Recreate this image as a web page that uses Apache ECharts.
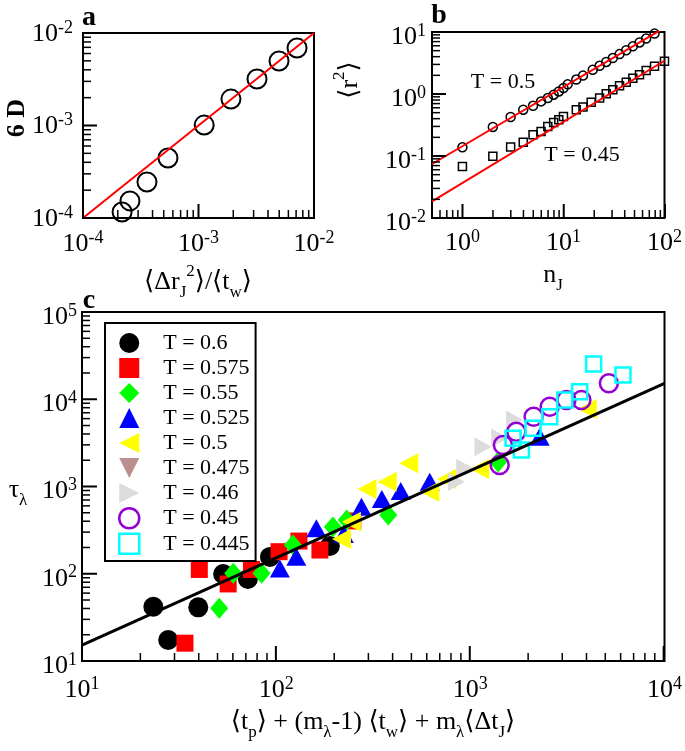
<!DOCTYPE html>
<html><head><meta charset="utf-8">
<script src="https://cdn.jsdelivr.net/npm/echarts@6/dist/echarts.min.js"></script>
<style>
html,body{margin:0;padding:0;background:#fff}
#chart,#ticks{position:absolute;left:0;top:0;width:685px;height:751px}
#ticks{pointer-events:none}
</style>
</head><body><div id="chart"></div><div id="ticks"></div>
<script>
// ---------- Panel a ----------
const aX = [2.18e-4, 2.55e-4, 3.58e-4, 5.44e-4, 1.12e-3, 1.91e-3, 3.21e-3, 4.98e-3, 7.13e-3];
const aY = [1.16e-4, 1.53e-4, 2.45e-4, 4.45e-4, 1.01e-3, 1.93e-3, 3.18e-3, 4.98e-3, 6.89e-3];
const aFitX = [1e-4, 1e-2];
const aFitY = [1e-4, 1e-2];
// ---------- Panel b ----------
const bN05 = [1, 2, 3, 4, 5, 6, 7, 8, 9, 10, 11, 13.4, 15.6, 19.5, 22.8, 26.5, 30.8, 35.9, 41.8, 48.6, 56.6, 65.8, 79.7];
const bR05 = [0.138, 0.294, 0.426, 0.558, 0.645, 0.76, 0.86, 0.975, 1.10, 1.25, 1.43, 1.71, 1.98, 2.46, 2.85, 3.29, 3.80, 4.40, 5.08, 5.87, 6.79, 7.83, 9.42];
const bN045 = [1, 2, 3, 4, 5, 6, 7, 8, 9, 10, 13.4, 15.6, 18.8, 22.8, 26.5, 30.8, 35.9, 41.8, 48.6, 56.6, 65.8, 79.7, 100];
const bR045 = [0.068, 0.099, 0.140, 0.166, 0.221, 0.249, 0.30, 0.348, 0.385, 0.435, 0.558, 0.616, 0.733, 0.861, 1.01, 1.17, 1.36, 1.54, 1.79, 2.05, 2.40, 2.79, 3.36];
const bFit05X = [0.5, 100];
const bFit05Y = [0.0743, 11.7];
const bFit045X = [0.5, 100];
const bFit045Y = [0.0185, 3.44];
// ---------- Panel c ----------
const cNames = ['T = 0.6', 'T = 0.575', 'T = 0.55', 'T = 0.525', 'T = 0.5', 'T = 0.475', 'T = 0.46', 'T = 0.45', 'T = 0.445'];
const cX06 = [23.3, 27.8, 39.7, 53.3, 71.5, 92.9, 189];
const cY06 = [41.9, 17.4, 41.2, 99.3, 87.1, 156, 208];
const cX0575 = [40.2, 33.9, 56.6, 74.6, 103.5, 131, 168, 248];
const cY0575 = [112, 16.0, 76.4, 112, 179, 237, 187, 403];
const cX055 = [50.9, 60.1, 84.1, 122, 196, 231, 378, 1390];
const cY055 = [40.2, 101, 101, 214, 344, 413, 471, 1910];
const cX0525 = [104.5, 127, 161, 223, 275, 350, 438, 618, 2276];
const cY0525 = [115, 157, 332, 286, 586, 719, 888, 1135, 3720];
const cX05 = [217, 244, 294, 373, 482, 618, 754, 1117, 4000];
const cY05 = [250, 395, 935, 1135, 1845, 871, 1219, 1588, 7730];
const cX0475 = [];
const cY0475 = [];
const cX046 = [847, 935, 1162, 1416, 1690];
const cY046 = [1135, 1620, 2860, 3597, 5780];
const cX045 = [1416, 1472, 1725, 2118, 2564, 3126, 3733, 5170];
const cY045 = [1762, 2990, 4250, 6310, 8220, 9790, 9790, 15240];
const cX0445 = [1660, 1832, 2104, 2564, 3063, 3656, 4315, 6110];
const cY0445 = [3565, 2620, 4645, 6310, 9790, 12220, 25350, 18970];
const cFitX = [10, 1e4];
const cFitY = [15.2, 15200];
// tick multipliers for log minor ticks
const minorMult = [2, 3, 4, 5, 6, 7, 8, 9];

const FF = "'Liberation Serif','DejaVu Serif',serif";
const zip = (xs, ys) => xs.map((x, i) => [x, ys[i]]);

const tickRich = {
  b: {fontFamily: FF, fontSize: 26, lineHeight: 30, color: '#000'},
  s: {fontFamily: FF, fontSize: 18, lineHeight: 14, verticalAlign: 'top', color: '#000'}
};
const titleRich = {
  n: {fontFamily: FF, fontSize: 26, lineHeight: 38, verticalAlign: 'middle', color: '#000'},
  nb: {fontFamily: FF, fontSize: 26, fontWeight: 'bold', lineHeight: 38, verticalAlign: 'middle', color: '#000'},
  sub: {fontFamily: FF, fontSize: 17, lineHeight: 17, verticalAlign: 'bottom', color: '#000'},
  sup: {fontFamily: FF, fontSize: 17, lineHeight: 17, verticalAlign: 'top', color: '#000'},
  t: {fontFamily: FF, fontSize: 22, lineHeight: 24, color: '#000'},
  p: {fontFamily: FF, fontSize: 28, fontWeight: 'bold', lineHeight: 30, color: '#000'}
};

function powLabel(v) {
  const e = Math.log10(v);
  if (Math.abs(e - Math.round(e)) > 1e-3) return '';
  return '{b|10}{s|' + Math.round(e) + '}';
}

function logAxis(gi, min, max, isY, margin, padTop) {
  return {
    type: 'log', logBase: 10, gridIndex: gi, min: min, max: max,
    splitLine: {show: false}, axisTick: {show: false}, axisLine: {show: false},
    axisLabel: {interval: 0, formatter: powLabel, rich: tickRich, margin: margin,
      padding: isY ? [padTop, 0, 0, 0] : 0, color: '#000', fontFamily: FF}
  };
}

// tick positions (values) of a log axis between lo and hi
function buildTicks(lo, hi, major) {
  const out = [];
  for (let e = Math.floor(Math.log10(lo)); e <= Math.ceil(Math.log10(hi)); e++) {
    const base = Math.pow(10, e);
    if (major) {
      if (base >= lo * 0.999 && base <= hi * 1.001) out.push(base);
    } else {
      for (const m of minorMult) {
        const v = m * base;
        if (v > lo * 1.001 && v < hi * 0.999) out.push(v);
      }
    }
  }
  return out;
}

const triLeft = 'path://M0,5 L10,0 L10,10 Z';
const triRight = 'path://M0,0 L10,5 L0,10 Z';
const triDown = 'path://M0,0 L10,0 L5,10 Z';
const triUp = 'path://M5,0 L10,10 L0,10 Z';

const cStyles = [
  {symbol: 'circle', size: 20, style: {color: '#000000', opacity: 1}},
  {symbol: 'rect', size: 17, style: {color: '#ff0000', opacity: 1}},
  {symbol: 'diamond', size: [18, 21], style: {color: '#00ff00', opacity: 1}},
  {symbol: triUp, size: [20, 18], style: {color: '#0000ff', opacity: 1}},
  {symbol: triLeft, size: [19, 20], style: {color: '#ffff00', opacity: 1}},
  {symbol: triDown, size: [19, 18], style: {color: '#bc8f8f', opacity: 1}},
  {symbol: triRight, size: [17, 19], style: {color: '#dcdcdc', opacity: 1}},
  {symbol: 'circle', size: 18, style: {color: 'rgba(0,0,0,0)', borderColor: '#9400d3', borderWidth: 2.5, opacity: 1}},
  {symbol: 'rect', size: 15, style: {color: 'rgba(0,0,0,0)', borderColor: '#00ffff', borderWidth: 2.5, opacity: 1}}
];
const cData = [zip(cX06, cY06), zip(cX0575, cY0575), zip(cX055, cY055), zip(cX0525, cY0525),
  zip(cX05, cY05), zip(cX0475, cY0475), zip(cX046, cY046), zip(cX045, cY045), zip(cX0445, cY0445)];

const series = [];
// panel a
series.push({type: 'scatter', xAxisIndex: 0, yAxisIndex: 0, data: zip(aX, aY), symbol: 'circle', symbolSize: 19,
  itemStyle: {color: 'rgba(0,0,0,0)', borderColor: '#000', borderWidth: 2, opacity: 1}, silent: true});
series.push({type: 'line', xAxisIndex: 0, yAxisIndex: 0, data: zip(aFitX, aFitY), showSymbol: false, silent: true,
  lineStyle: {color: '#ff0000', width: 2}, z: 4});
// panel b
series.push({type: 'scatter', xAxisIndex: 1, yAxisIndex: 1, data: zip(bN05, bR05), symbol: 'circle', symbolSize: 9,
  itemStyle: {color: 'rgba(0,0,0,0)', borderColor: '#000', borderWidth: 1.5, opacity: 1}, silent: true});
series.push({type: 'scatter', xAxisIndex: 1, yAxisIndex: 1, data: zip(bN045, bR045), symbol: 'rect', symbolSize: 8,
  itemStyle: {color: 'rgba(0,0,0,0)', borderColor: '#000', borderWidth: 1.5, opacity: 1}, silent: true});
series.push({type: 'line', xAxisIndex: 1, yAxisIndex: 1, data: zip(bFit05X, bFit05Y), showSymbol: false, silent: true,
  lineStyle: {color: '#ff0000', width: 2}, z: 4});
series.push({type: 'line', xAxisIndex: 1, yAxisIndex: 1, data: zip(bFit045X, bFit045Y), showSymbol: false, silent: true,
  lineStyle: {color: '#ff0000', width: 2}, z: 4});
// panel c
cNames.forEach((nm, i) => {
  series.push({type: 'scatter', name: nm, xAxisIndex: 2, yAxisIndex: 2, data: cData[i],
    symbol: cStyles[i].symbol, symbolSize: cStyles[i].size, itemStyle: cStyles[i].style, silent: true});
});
series.push({type: 'line', xAxisIndex: 2, yAxisIndex: 2, data: zip(cFitX, cFitY), showSymbol: false, silent: true,
  lineStyle: {color: '#000', width: 3}, z: 4});

const legendIcons = ['circle', 'rect', 'diamond', triUp, triLeft, triDown, triRight, 'circle', 'rect'];
const legendData = cNames.map((nm, i) => ({name: nm, icon: legendIcons[i],
  itemStyle: Object.assign({borderWidth: 0}, cStyles[i].style)}));

function gtext(x, y, text, rot) {
  return {type: 'text', x: x, y: y, rotation: rot || 0, silent: true, z: 20,
    style: {text: text, rich: titleRich, align: 'center', verticalAlign: 'middle',
      textAlign: 'center', textVerticalAlign: 'middle', fill: '#000', fontFamily: FF, fontSize: 26}};
}

const gridBoxes = [
  {left: 83, top: 33, width: 231, height: 185},
  {left: 432, top: 32, width: 233, height: 186},
  {left: 82, top: 312, width: 583, height: 349}
];
const gridBase = {show: true, borderColor: '#000', borderWidth: 2, backgroundColor: 'rgba(0,0,0,0)', containLabel: false};
const axisRanges = [
  {x: [1e-4, 1e-2], y: [1e-4, 1e-2], maj: 14, min: 8},
  {x: [0.5, 100], y: [0.01, 10], maj: 14, min: 8},
  {x: [10, 1e4], y: [10, 1e5], maj: 15, min: 8}
];

const option = {
  animation: false,
  grid: gridBoxes.map(g => Object.assign({}, g, gridBase)),
  xAxis: [
    logAxis(0, 1e-4, 1e-2, false, 11, 0),
    logAxis(1, 0.5, 100, false, 10, 0),
    logAxis(2, 10, 1e4, false, 14, 0)
  ],
  yAxis: [
    logAxis(0, 1e-4, 1e-2, true, 10, 2),
    logAxis(1, 0.01, 10, true, 6, 10),
    logAxis(2, 10, 1e5, true, 5, 10)
  ],
  legend: {
    data: legendData, orient: 'vertical', left: 105, top: 323, itemGap: 3, itemWidth: 20, itemHeight: 20,
    padding: [9, 6, 6, 13], borderColor: '#000', borderWidth: 2, backgroundColor: '#fff',
    selectedMode: false, itemStyle: {borderWidth: 0}, z: 10,
    textStyle: {fontFamily: FF, fontSize: 22, color: '#000', lineHeight: 20, padding: [0, 0, 0, 19]}
  },
  graphic: [
    gtext(89, 18, '{p|a}'),
    gtext(439, 16, '{p|b}'),
    gtext(89, 301, '{p|c}'),
    gtext(17, 118, '{nb|6 D}', Math.PI / 2),
    gtext(198, 282, '{n|⟨Δr}{sub|J}{sup|2}{n|⟩/⟨t}{sub|w}{n|⟩}'),
    gtext(350, 80, '{n|⟨r}{sup|2}{n|⟩}', Math.PI / 2),
    gtext(553, 275, '{n|n}{sub|J}'),
    gtext(503, 82, '{t|T = 0.5}'),
    gtext(582, 155, '{t|T = 0.45}'),
    gtext(18, 490, '{n|τ}{sub|λ}'),
    gtext(373, 722, '{n|⟨t}{sub|p}{n|⟩ + (m}{sub|λ}{n|-1) ⟨t}{sub|w}{n|⟩ + m}{sub|λ}{n|⟨Δt}{sub|J}{n|⟩}')
  ],
  series: series
};

const chart = echarts.init(document.getElementById('chart'), null, {renderer: 'canvas'});
try { chart.setOption(option); } catch (err) { console.error(err); }

// ---------- overlay chart: inside log ticks, drawn through the same log scales ----------
const tickSeries = [];
axisRanges.forEach((sp, gi) => {
  [true, false].forEach(major => {
    const L = major ? sp.maj : sp.min;
    const w = major ? 2 : 1.5;
    tickSeries.push({type: 'scatter', xAxisIndex: gi, yAxisIndex: gi, clip: false,
      data: buildTicks(sp.x[0], sp.x[1], major).map(v => [v, sp.y[0]]),
      symbol: 'rect', symbolSize: [w, L], symbolOffset: [0, -L / 2],
      itemStyle: {color: '#000', opacity: 1}});
    tickSeries.push({type: 'scatter', xAxisIndex: gi, yAxisIndex: gi, clip: false,
      data: buildTicks(sp.y[0], sp.y[1], major).map(v => [sp.x[0], v]),
      symbol: 'rect', symbolSize: [L, w], symbolOffset: [L / 2, 0],
      itemStyle: {color: '#000', opacity: 1}});
  });
});
const clear = 'rgba(0,0,0,0)';
const hiddenAxis = (gi, r) => ({type: 'log', gridIndex: gi, min: r[0], max: r[1],
  axisLine: {lineStyle: {color: clear}}, axisTick: {lineStyle: {color: clear}},
  splitLine: {lineStyle: {color: clear}}, axisLabel: {color: clear}});
const tickChart = echarts.init(document.getElementById('ticks'), null, {renderer: 'canvas'});
try {
  tickChart.setOption({
    animation: false,
    grid: gridBoxes.map(g => Object.assign({show: false, containLabel: false}, g)),
    xAxis: axisRanges.map((sp, gi) => hiddenAxis(gi, sp.x)),
    yAxis: axisRanges.map((sp, gi) => hiddenAxis(gi, sp.y)),
    series: tickSeries
  });
} catch (err) { console.error(err); }
</script>
</body></html>
